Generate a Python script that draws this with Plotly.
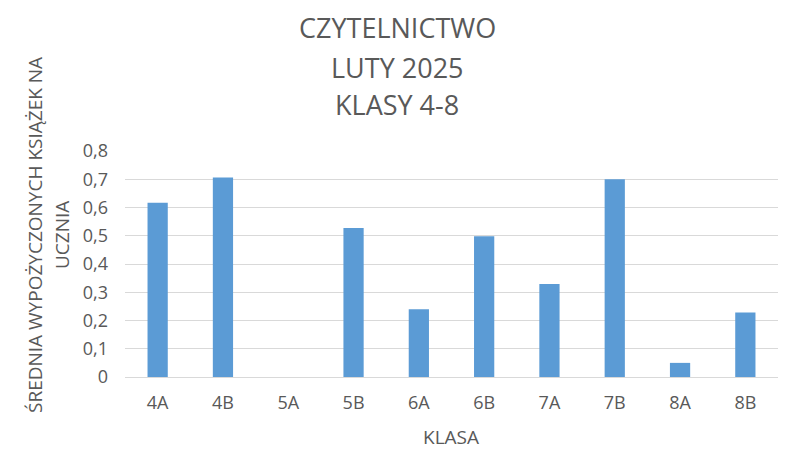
import plotly.graph_objects as go

categories = ["4A", "4B", "5A", "5B", "6A", "6B", "7A", "7B", "8A", "8B"]
values = [0.617, 0.706, 0, 0.527, 0.24, 0.498, 0.329, 0.70, 0.05, 0.228]
y_ticks = [0, 0.1, 0.2, 0.3, 0.4, 0.5, 0.6, 0.7, 0.8]
y_tick_labels = ["0", "0,1", "0,2", "0,3", "0,4", "0,5", "0,6", "0,7", "0,8"]
title_lines = ["CZYTELNICTWO", "LUTY 2025", "KLASY 4-8"]
y_title_lines = ["ŚREDNIA WYPOŻYCZONYCH KSIĄŻEK NA", "UCZNIA"]
x_title = "KLASA"

gray = "#595959"
font_family = "Open Sans, DejaVu Sans, sans-serif"

W, H = 800, 469
ML, MR, MT, MB = 125, 22, 151, 92
plot_w = W - ML - MR
plot_h = H - MT - MB


def px_x(px):
    return (px - ML) / plot_w


def px_y(py):
    return (H - MB - py) / plot_h


fig = go.Figure(go.Bar(x=categories, y=values, marker_color="#5B9BD5",
                       marker_line_width=0))

for txt, py in zip(title_lines, [28, 67, 105]):
    fig.add_annotation(text=txt, xref="paper", yref="paper",
                       x=px_x(397), y=px_y(py),
                       xanchor="center", yanchor="middle", showarrow=False,
                       font=dict(size=27, color=gray, family=font_family))

for txt, px in zip(y_title_lines, [35, 62]):
    fig.add_annotation(text=txt, xref="paper", yref="paper",
                       x=px_x(px), y=px_y(235), textangle=-90,
                       xanchor="center", yanchor="middle", showarrow=False,
                       font=dict(size=19, color=gray, family=font_family))

fig.add_annotation(text=x_title, xref="paper", yref="paper",
                   x=px_x(451), y=px_y(437),
                   xanchor="center", yanchor="middle", showarrow=False,
                   font=dict(size=19, color=gray, family=font_family))

fig.update_layout(
    width=W, height=H,
    paper_bgcolor="white", plot_bgcolor="white",
    margin=dict(l=ML, r=MR, t=MT, b=MB),
    bargap=0.69,
    font=dict(family=font_family, color=gray, size=18),
    showlegend=False,
)
fig.update_xaxes(showgrid=False, showline=True, linecolor="#d9d9d9", linewidth=1,
                 ticks="", tickfont=dict(size=18, color=gray), ticklabelstandoff=9)
fig.update_yaxes(range=[0, 0.8], tickvals=y_ticks, ticktext=y_tick_labels,
                 showgrid=True, gridcolor="#d9d9d9", gridwidth=1,
                 zeroline=False, showline=False, ticks="",
                 tickfont=dict(size=18, color=gray), ticklabelstandoff=16)

fig.write_html("out.html", config={"displayModeBar": False})

# remove the default 8px body margin so the figure fills the window
with open("out.html", encoding="utf-8") as f:
    html = f.read()
html = html.replace("<head>", "<head><style>body{margin:0;overflow:hidden}</style>", 1)
with open("out.html", "w", encoding="utf-8") as f:
    f.write(html)
